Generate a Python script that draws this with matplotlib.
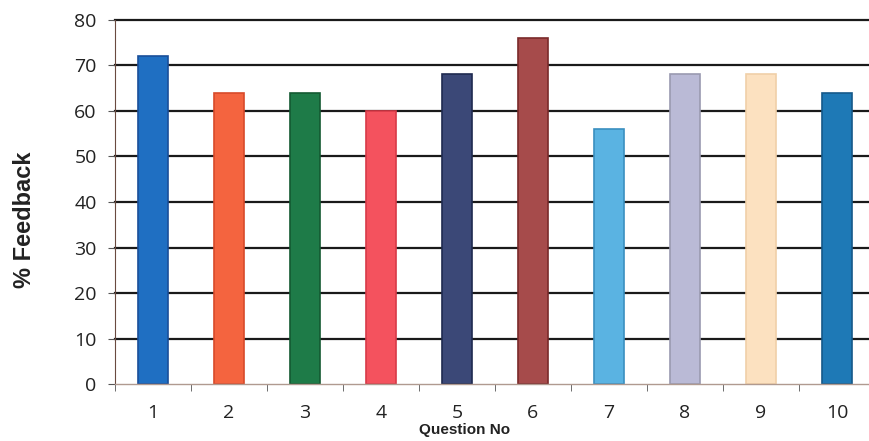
import matplotlib
matplotlib.use("Agg")
import matplotlib.pyplot as plt
import numpy as np

# -----------------------------
# DATA
# -----------------------------
questions = ["1", "2", "3", "4", "5", "6", "7", "8", "9", "10"]
feedback = [72, 64, 64, 60, 68, 76, 56, 68, 68, 64]
bar_colors = ["#1F6FC2", "#F4643F", "#1E7B48", "#F4525E", "#3B4877",
              "#A64B4B", "#5AB3E2", "#BABAD6", "#FCE1C0", "#1E79B6"]
edge_colors = ["#1A4F9A", "#D84A2A", "#145A32", "#D83A48", "#1F2A50",
               "#7A2A2A", "#3A8FC0", "#9A9AB0", "#F0D0A8", "#15598A"]
y_ticks = [0, 10, 20, 30, 40, 50, 60, 70, 80]

fig = plt.figure(figsize=(8.69, 4.41), dpi=100)
ax = fig.add_axes([0.132, 0.129, 0.875, 0.826])

x = np.arange(len(questions))

# gridlines behind bars
for t in y_ticks[1:]:
    ax.axhline(t, color="#1a1a1a", linewidth=1.6, zorder=0, clip_on=False)

ax.bar(x, feedback, width=0.4, color=bar_colors, edgecolor=edge_colors,
       linewidth=1.2, zorder=2)

ax.set_xlim(-0.5, 9.5)
ax.set_ylim(0, 80)
ax.set_yticks(y_ticks)
ax.set_xticks(x)
ax.set_xticklabels(questions)

# category boundary ticks below the axis
ax.set_xticks(np.arange(-0.5, 10, 1), minor=True)
ax.tick_params(axis="x", which="major", length=0, pad=14,
               labelsize=14, labelcolor="#222222")
ax.tick_params(axis="x", which="minor", length=5, direction="out",
               color="#555555")
ax.tick_params(axis="y", length=5, color="#555555", labelsize=14,
               labelcolor="#222222", pad=8)
for lab in ax.get_xticklabels() + ax.get_yticklabels():
    lab.set_family("Open Sans")

for s in ["top", "right"]:
    ax.spines[s].set_visible(False)
ax.spines["left"].set_color("#6a4a40")
ax.spines["left"].set_linewidth(0.8)
ax.spines["bottom"].set_color("#b09a90")
ax.spines["bottom"].set_linewidth(1.0)

ax.set_ylabel("% Feedback", fontsize=17, fontweight="bold",
              family="Liberation Sans", color="#222222")
ax.yaxis.set_label_coords(-0.118, 0.45)
ax.yaxis.label.set_va("center")
ax.set_xlabel("Question No", fontsize=11, fontweight="bold",
              family="Liberation Sans", color="#222222", labelpad=0)
ax.xaxis.set_label_coords(0.46, -0.108)
ax.xaxis.label.set_va("top")

fig.savefig("out.png", dpi=100)
